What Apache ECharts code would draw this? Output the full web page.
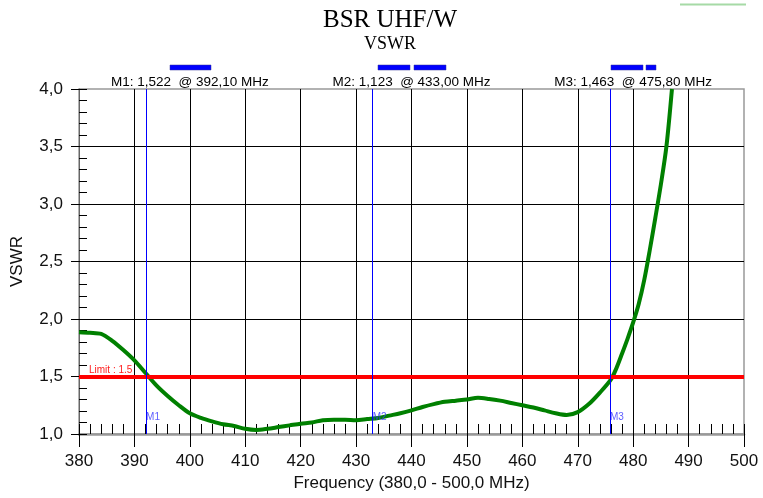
<!DOCTYPE html>
<html>
<head>
<meta charset="utf-8">
<title>BSR UHF/W - VSWR</title>
<script src="https://cdn.jsdelivr.net/npm/echarts@6/dist/echarts.min.js"></script>
<style>
    html, body { margin: 0; padding: 0; background: #fff; }
    #chart { width: 763px; height: 498px; }
</style>
</head>
<body>
<div id="chart"></div>
<script>
'use strict';

// sweep
var freqs = [380, 382, 384, 386, 388, 390, 392, 394, 396, 398,
             400, 402, 404, 406, 408, 410, 412, 414, 416, 418,
             420, 422, 424, 426, 428, 430, 432, 434, 436, 438,
             440, 442, 444, 446, 448, 450, 452, 454, 456, 458,
             460, 462, 464, 466, 468, 470, 472, 474, 476, 477,
             478, 479, 480, 481, 482, 483, 484, 485, 486, 487];
var vswr = [1.885, 1.880, 1.870, 1.810, 1.730, 1.640, 1.530, 1.420, 1.330, 1.250,
            1.180, 1.140, 1.110, 1.085, 1.070, 1.045, 1.035, 1.045, 1.060, 1.075,
            1.090, 1.100, 1.120, 1.125, 1.125, 1.120, 1.130, 1.140, 1.160, 1.180,
            1.205, 1.235, 1.260, 1.280, 1.290, 1.300, 1.315, 1.305, 1.290, 1.270,
            1.250, 1.230, 1.205, 1.180, 1.165, 1.190, 1.260, 1.360, 1.475, 1.575,
            1.700, 1.830, 1.970, 2.130, 2.340, 2.600, 2.880, 3.170, 3.500, 4.000];

var markerNames = ['M1', 'M2', 'M3'];
var markerFreqs = [392.1, 433.0, 475.8];
var markerVswr = [1.522, 1.123, 1.463];

var limitValue = 1.5;

var xMin = 380, xMax = 500, xStep = 10, xMinorStep = 2;
var yMin = 1.0, yMax = 4.0, yStep = 0.5, yMinorStep = 0.1;

var chartTitle = 'BSR UHF/W';
var chartSubtitle = 'VSWR';
var xName = 'Frequency (380,0 - 500,0 MHz)';
var yName = 'VSWR';

var SANS = 'Liberation Sans';
var SERIF = 'Liberation Serif';

var gridLeft = 79, gridRight = 19, gridTop = 89, gridBottom = 64;
var plotWidth = 763 - gridLeft - gridRight;

function fmt(v, digits) {
    return v.toFixed(digits).replace('.', ',');
}

var points = freqs.map(function (f, i) { return [f, vswr[i]]; });

// marker readouts above the plot, one per third of the width
var headerTexts = markerNames.map(function (name, i) {
    return {
        type: 'text',
        x: gridLeft + plotWidth * (i + 0.5) / 3,
        y: 82,
        style: {
            text: name + ': ' + fmt(markerVswr[i], 3) + '  @ ' + fmt(markerFreqs[i], 2) + ' MHz',
            font: '13.5px "' + SANS + '"',
            fill: '#000',
            textAlign: 'center',
            textVerticalAlign: 'middle'
        }
    };
});

// the little blue bars above the readouts
var barRects = [[170, 41], [378, 32], [414, 32], [611, 32], [646, 10]].map(function (b) {
    return {
        type: 'rect',
        shape: { x: b[0], y: 65, width: b[1], height: 5 },
        style: { fill: '#0000ff', stroke: '#333399', lineWidth: 0.5 }
    };
});

var chart = echarts.init(document.getElementById('chart'));

var markLineData = [{
    yAxis: limitValue,
    lineStyle: { color: '#ff0000', width: 4, type: 'solid' },
    label: {
        show: true,
        position: 'insideStartTop',
        distance: [10, 1],
        formatter: 'Limit : ' + limitValue.toFixed(1),
        color: '#ff2020',
        fontFamily: SANS,
        fontSize: 10
    }
}].concat(markerFreqs.map(function (f) {
    return {
        xAxis: f,
        lineStyle: { color: '#0000ff', width: 1, type: 'solid' },
        label: { show: false }
    };
}));

var options = {
    animation: false,
    backgroundColor: '#fff',
    grid: {
        left: gridLeft, right: gridRight, top: gridTop, bottom: gridBottom,
        show: true, borderColor: '#999', borderWidth: 1.5, backgroundColor: 'transparent'
    },
    graphic: [
        {
            type: 'text', x: 390, y: 20,
            style: {
                text: chartTitle, font: '25px "' + SERIF + '"', fill: '#000',
                textAlign: 'center', textVerticalAlign: 'middle'
            }
        },
        {
            type: 'text', x: 390, y: 44,
            style: {
                text: chartSubtitle, font: '18px "' + SERIF + '"', fill: '#000',
                textAlign: 'center', textVerticalAlign: 'middle'
            }
        },
        {
            type: 'line',
            shape: { x1: 680, y1: 4.5, x2: 746, y2: 4.5 },
            style: { stroke: '#a6daa6', lineWidth: 2 }
        }
    ].concat(headerTexts, barRects),
    xAxis: [
        {
            type: 'value', min: xMin, max: xMax, interval: xStep,
            name: xName, nameLocation: 'middle', nameGap: 39,
            nameTextStyle: { fontFamily: SANS, fontSize: 17, color: '#111' },
            axisLine: { show: true, onZero: false, lineStyle: { color: '#999', width: 2.5 } },
            axisTick: { show: true, inside: false, length: 13, lineStyle: { color: '#000' } },
            axisLabel: { margin: 19, fontFamily: SANS, fontSize: 17, color: '#111' },
            splitLine: { show: true, showMinLine: false, showMaxLine: false, lineStyle: { color: '#000', width: 1 } }
        },
        {
            type: 'value', min: xMin, max: xMax, interval: xMinorStep, position: 'bottom',
            axisLine: { show: false },
            axisTick: { show: true, inside: true, length: 10, lineStyle: { color: '#000' } },
            axisLabel: { show: false },
            splitLine: { show: false }
        }
    ],
    yAxis: [
        {
            type: 'value', min: yMin, max: yMax, interval: yStep,
            name: yName, nameLocation: 'middle', nameGap: 53,
            nameTextStyle: { fontFamily: SANS, fontSize: 17, color: '#111' },
            axisLine: { show: true, onZero: false, lineStyle: { color: '#666', width: 1 } },
            axisTick: { show: true, inside: false, length: 8, lineStyle: { color: '#000' } },
            axisLabel: {
                margin: 16, fontFamily: SANS, fontSize: 17, color: '#111',
                formatter: function (v) { return fmt(v, 1); }
            },
            splitLine: { show: true, showMinLine: false, showMaxLine: false, lineStyle: { color: '#000', width: 1 } }
        },
        {
            type: 'value', min: yMin, max: yMax, interval: yMinorStep, position: 'left',
            axisLine: { show: false },
            axisTick: { show: true, inside: true, length: 8, lineStyle: { color: '#000' } },
            axisLabel: { show: false },
            splitLine: { show: false }
        }
    ],
    series: [
        {
            type: 'line',
            name: 'VSWR',
            data: points,
            xAxisIndex: 0, yAxisIndex: 0,
            smooth: 0.3,
            showSymbol: false,
            symbol: 'none',
            lineStyle: { color: '#008000', width: 4 },
            z: 3,
            markLine: {
                silent: true,
                symbol: ['none', 'none'],
                z: 4,
                data: markLineData
            }
        },
        {
            // marker names at the foot of each marker line
            type: 'scatter',
            data: markerFreqs.map(function (f) { return [f, yMin]; }),
            xAxisIndex: 0, yAxisIndex: 0,
            symbol: 'circle', symbolSize: 0,
            silent: true,
            z: 5,
            label: {
                show: true,
                position: [0, -22],
                formatter: function (p) { return markerNames[p.dataIndex]; },
                color: '#3333ff',
                fontFamily: SANS,
                fontSize: 10
            }
        }
    ]
};

chart.setOption(options);
</script>
</body>
</html>
